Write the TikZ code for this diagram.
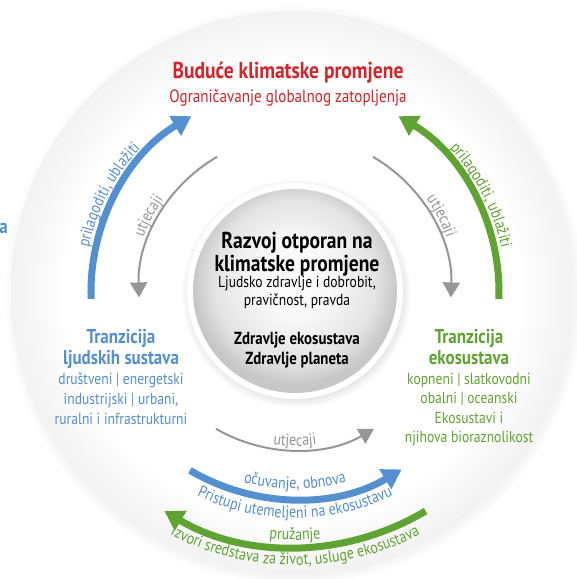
\documentclass[tikz,border=0pt]{standalone}
\usepackage{fontspec}
\setmainfont{PT Sans}[FakeStretch=0.85]
\usetikzlibrary{arrows.meta, positioning, decorations.text, shadows}
\definecolor{futurered}{RGB}{214,34,40}
\definecolor{humanblue}{RGB}{84,143,207}
\definecolor{ecogreen}{RGB}{95,163,50}
\definecolor{impactgray}{RGB}{150,150,150}
\pgfdeclareradialshading{discshade}{\pgfpoint{0bp}{0bp}}{color(0bp)=(white); color(20bp)=(white); color(25bp)=(black!5); color(50bp)=(black!5)}
\pgfdeclareradialshading{coreshade}{\pgfpoint{0bp}{4bp}}{color(0bp)=(white); color(10bp)=(black!3); color(20bp)=(black!11); color(25bp)=(black!22); color(50bp)=(black!22)}
\newcommand{\arclabelfont}{\fontsize{16.5}{16.5}\selectfont}
\tikzstyle{bigtitle} = [font=\bfseries\fontsize{23}{23}\selectfont, align=center, inner sep=0pt]
\tikzstyle{heading} = [font=\bfseries\fontsize{20}{21}\selectfont, align=center, inner sep=0pt, text depth=4pt]
\tikzstyle{body} = [font=\fontsize{16}{20}\selectfont, align=center, inner sep=0pt]
\tikzstyle{thickarrow} = [line width=7pt, -{Triangle[width=22pt,length=19pt]}]
\tikzstyle{thinarrow} = [line width=2pt, impactgray, -{Triangle[width=17pt,length=15pt]}]
\tikzstyle{curvelabel} = [decorate, decoration={text along path, text align=center}]

\begin{document}
\begin{tikzpicture}[x=1pt, y=1pt]
    \useasboundingbox (-295,-287) rectangle (282,292);
    \fill[white] (-295,-287) rectangle (282,292);

    % plate and core
    \shade[shading=discshade, circular drop shadow={shadow scale=1.03, shadow xshift=2pt, shadow yshift=-3pt, opacity=0.35}] (-3,0) circle[radius=281];
    \fill[white, circular drop shadow={shadow scale=1.06, shadow xshift=1pt, shadow yshift=-2pt, opacity=0.35}] (0,1) circle[radius=108];
    \shade[shading=coreshade] (0,1) circle[radius=102];

    \node (future) [bigtitle, text=futurered] at (-7,219) {Buduće klimatske promjene};
    \node (futuresub) [body, font=\fontsize{17.8}{20}\selectfont, text=futurered, below=5pt of future] {Ograničavanje globalnog zatopljenja};
    \node (core) [bigtitle, text depth=4pt] at (2,38) {Razvoj otporan na\\klimatske promjene};
    \node (coresub) [body, font=\fontsize{16}{18}\selectfont, below=0pt of core] {Ljudsko zdravlje i dobrobit,\\pravičnost, pravda};
    \node (corehealth) [heading, font=\bfseries\fontsize{17.5}{20}\selectfont, below=23pt of coresub] {Zdravlje ekosustava\\Zdravlje planeta};
    \node (humantitle) [heading, text=humanblue] at (-174,-57) {Tranzicija\\ljudskih sustava};
    \node (humantext) [body, text=humanblue, below=4pt of humantitle] {društveni | energetski\\industrijski | urbani,\\ruralni i infrastrukturni};
    \node (ecotitle) [heading, text=ecogreen] at (174,-57) {Tranzicija\\ekosustava};
    \node (ecotext) [body, font=\fontsize{16}{19.5}\selectfont, text=ecogreen, below=4pt of ecotitle] {kopneni | slatkovodni\\obalni | oceanski\\Ekosustavi i\\njihova bioraznolikost};
    \node (stray) [heading, text=humanblue, anchor=base east] at (-287,59) {a};

    % arrows
    \coordinate (humanfoot) at (182:204);
    \coordinate (ecofoot) at (-2:204);
    \coordinate (impactleft) at (120:156);
    \coordinate (impactright) at (60:156);
    \coordinate (impactlow) at (240:158);
    \coordinate (restorefoot) at (239.5:207);
    \coordinate (providefoot) at (300.8:255);
    \draw[thickarrow, humanblue] (humanfoot) arc[start angle=182, end angle=120.5, radius=204];
    \draw[thickarrow, ecogreen] (ecofoot) arc[start angle=-2, end angle=59.5, radius=204];
    \draw[thinarrow] (impactleft) arc[start angle=120, end angle=182, radius=156];
    \draw[thinarrow] (impactright) arc[start angle=60, end angle=-2, radius=156];
    \draw[thinarrow] (impactlow) arc[start angle=240, end angle=300, radius=158];
    \draw[thickarrow, humanblue] (restorefoot) arc[start angle=239.5, end angle=301, radius=207];
    \draw[thickarrow, ecogreen] (providefoot) arc[start angle=300.8, end angle=239.2, radius=255];

    % curved labels
    \path[curvelabel, decoration={text={|\arclabelfont\color{humanblue}|prilagoditi, ublažiti}}] (175:211) arc[start angle=175, end angle=130, radius=211];
    \path[curvelabel, decoration={text={|\arclabelfont\color{ecogreen}|prilagoditi, ublažiti}}] (50:211) arc[start angle=50, end angle=5, radius=211];
    \path[curvelabel, decoration={text={|\arclabelfont\color{impactgray}|utjecaji}}] (170:161) arc[start angle=170, end angle=135, radius=161];
    \path[curvelabel, decoration={text={|\arclabelfont\color{impactgray}|utjecaji}}] (45:161) arc[start angle=45, end angle=10, radius=161];
    \path[curvelabel, decoration={text={|\arclabelfont\color{impactgray}|utjecaji}}] (245:154) arc[start angle=245, end angle=295, radius=154];
    \path[curvelabel, decoration={text={|\arclabelfont\color{humanblue}|očuvanje, obnova}}] (235:197) arc[start angle=235, end angle=305, radius=197];
    \path[curvelabel, decoration={text={|\arclabelfont\color{humanblue}|Pristupi utemeljeni na ekosustavu}}] (232:226) arc[start angle=232, end angle=308, radius=226];
    \path[curvelabel, decoration={text={|\arclabelfont\color{ecogreen}|pružanje}}] (245:248) arc[start angle=245, end angle=295, radius=248];
    \path[curvelabel, decoration={text={|\arclabelfont\color{ecogreen}|Izvori sredstava za život, usluge ekosustava}}] (230:273) arc[start angle=230, end angle=310, radius=273];
\end{tikzpicture}
\end{document}
